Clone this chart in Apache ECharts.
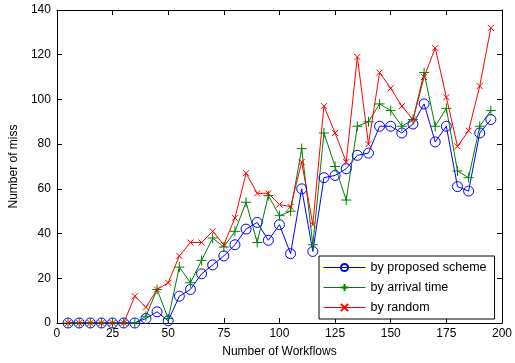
<!DOCTYPE html>
<html><head><meta charset="utf-8">
<script src="https://cdn.jsdelivr.net/npm/echarts@6/dist/echarts.min.js"></script>
<style>html,body{margin:0;padding:0;background:#fff}#c{width:515px;height:363px}</style>
</head><body><div id="c"></div>
<script>
const workflows = [5,10,15,20,25,30,35,40,45,50,55,60,65,70,75,80,85,90,95,100,105,110,115,120,125,130,135,140,145,150,155,160,165,170,175,180,185,190,195];
const proposed = [0,0,0,0,0,0,0,2,5,1,12,15,22,26,30,35,42,45,37,44,31,60,32,65,66,69,75,76,88,88,85,89,98,81,88,61,59,85,91];
const arrival  = [0,0,0,0,0,0,0,3,15,2,25,18,28,38,34,41,54,36,57,48,50,78,35,85,70,55,88,90,98,95,88,91,112,88,96,68,65,88,95];
const randomS  = [0,0,0,0,0,0,12,7,15,18,30,36,36,41,35,47,67,58,58,53,52,72,44,97,85,72,119,80,112,105,97,91,110,123,101,79,86,106,132];
const seriesNames = ['by proposed scheme','by arrival time','by random'];
const xTicks = {min:0, max:200, interval:25};
const yTicks = {min:0, max:140, interval:20};

const FONT = 'Liberation Sans';
const COLORS = ['#0000ff', '#008000', '#ff0000'];
const pair = (ys) => workflows.map((x,i)=>[x, ys[i]]);
const plusPath = 'path://M5 0L5 10M0 5L10 5';
const crossPath = 'path://M0 0L10 10M10 0L0 10';

const baseAxis = {
  axisLine:{show:true, onZero:false, lineStyle:{color:'#000', width:1}},
  axisTick:{show:true, inside:true, length:5, lineStyle:{color:'#000'}},
  splitLine:{show:false},
  axisLabel:{color:'#000', fontFamily:FONT, fontSize:12},
  nameTextStyle:{color:'#000', fontFamily:FONT, fontSize:12}
};

function mk(name, data, color, symbol, size){
  return {
    name, type:'line', data:pair(data), symbol, symbolSize:size,
    lineStyle:{color, width:1},
    itemStyle:{color:'none', borderColor:color, borderWidth:1},
    emphasis:{disabled:true}, animation:false
  };
}

const chart = echarts.init(document.getElementById('c'), null, {renderer:'canvas'});
chart.setOption({
  animation:false,
  backgroundColor:'#fff',
  grid:{left:52, right:10, top:10, bottom:37},
  xAxis:[
    Object.assign({}, baseAxis, {type:'value', min:xTicks.min, max:xTicks.max, interval:xTicks.interval,
      name:'Number of Workflows', nameLocation:'middle', nameGap:23,
      axisLabel:Object.assign({}, baseAxis.axisLabel, {margin:5})}),
    Object.assign({}, baseAxis, {type:'value', position:'top', min:xTicks.min, max:xTicks.max, interval:xTicks.interval,
      axisLabel:{show:false}})
  ],
  yAxis:[
    Object.assign({}, baseAxis, {type:'value', min:yTicks.min, max:yTicks.max, interval:yTicks.interval,
      name:'Number of miss', nameLocation:'middle', nameGap:35,
      axisLabel:Object.assign({}, baseAxis.axisLabel, {margin:6})}),
    Object.assign({}, baseAxis, {type:'value', position:'right', min:yTicks.min, max:yTicks.max, interval:yTicks.interval,
      axisLabel:{show:false}})
  ],
  legend:{
    orient:'vertical', left:319, top:256,
    backgroundColor:'#fff', borderColor:'#000', borderWidth:1, borderRadius:0,
    padding:[5,8,5,4], itemGap:7, itemWidth:42, itemHeight:9,
    lineStyle:{width:1},
    textStyle:{color:'#000', fontFamily:FONT, fontSize:12.5},
    data:seriesNames
  },
  series:[
    mk(seriesNames[0], proposed, COLORS[0], 'circle', 10),
    mk(seriesNames[1], arrival, COLORS[1], plusPath, 10),
    mk(seriesNames[2], randomS, COLORS[2], crossPath, 6)
  ]
});
</script></body></html>
